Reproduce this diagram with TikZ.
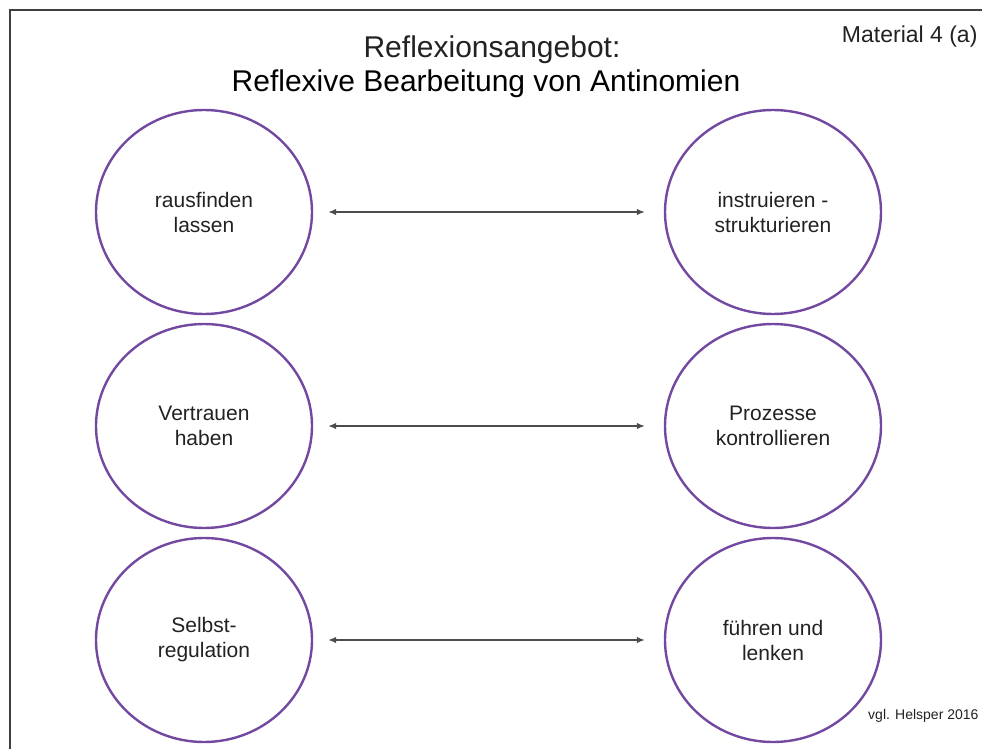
\documentclass[tikz,border=0pt]{standalone}
\usepackage{fontspec}
\setmainfont{Liberation Sans}
\usetikzlibrary{shapes.geometric, arrows.meta}
\definecolor{ringpurple}{RGB}{114,72,160}
\definecolor{textgray}{RGB}{34,34,34}

\begin{document}
\begin{tikzpicture}[x=1pt,y=-1pt]
            % Define dimensions
            \def\leftx{204}
            \def\rightx{773}
            \def\ringwidth{216}
            \def\ringheight{204}
            \tikzset{
                pole/.style={ellipse, draw=ringpurple, line width=2.4pt,
                    minimum width=\ringwidth pt, minimum height=\ringheight pt,
                    inner sep=0pt, align=center, text=textgray,
                    font=\fontsize{21}{25}\selectfont},
                antinomy/.style={black!70, line width=1.4pt,
                    {Latex[length=8pt,width=6.5pt]}-{Latex[length=8pt,width=6.5pt]}}
            }
            \useasboundingbox (0,0) rectangle (982,749);
            % Frame, cut off at right and bottom
            \draw[black!75, line width=2pt] (9.5,749) -- (9.5,10.5) -- (982,10.5);
            % Headings
            \node[anchor=base, font=\fontsize{30}{34}\selectfont, text=textgray] (title1) at (492,58) {Reflexionsangebot:};
            \node[anchor=base, font=\fontsize{30}{34}\selectfont] (title2) at (486,92) {Reflexive Bearbeitung von Antinomien};
            \node[anchor=base east, font=\fontsize{23}{26}\selectfont, text=textgray] (material) at (981,43) {Material 4 (a)};
            \node[anchor=base east, font=\fontsize{14}{16}\selectfont, text=textgray] (source) at (982,719) {vgl. Helsper 2016};
            % Antinomies: left pole, right pole, arrow between
            \foreach \i/\y/\lefttext/\righttext in {1/212/{rausfinden\\lassen}/{instruieren -\\strukturieren},
                                                    2/426/{Vertrauen\\haben}/{Prozesse\\kontrollieren},
                                                    3/640/{Selbst-\\regulation}/{führen und\\lenken}} {
                \node[pole] (links\i) at (\leftx,\y) {\lefttext};
                \node[pole] (rechts\i) at (\rightx,\y) {\righttext};
                \draw[antinomy, shorten <=15pt, shorten >=19pt] (links\i) -- (rechts\i);
            }
        \end{tikzpicture}
\end{document}
